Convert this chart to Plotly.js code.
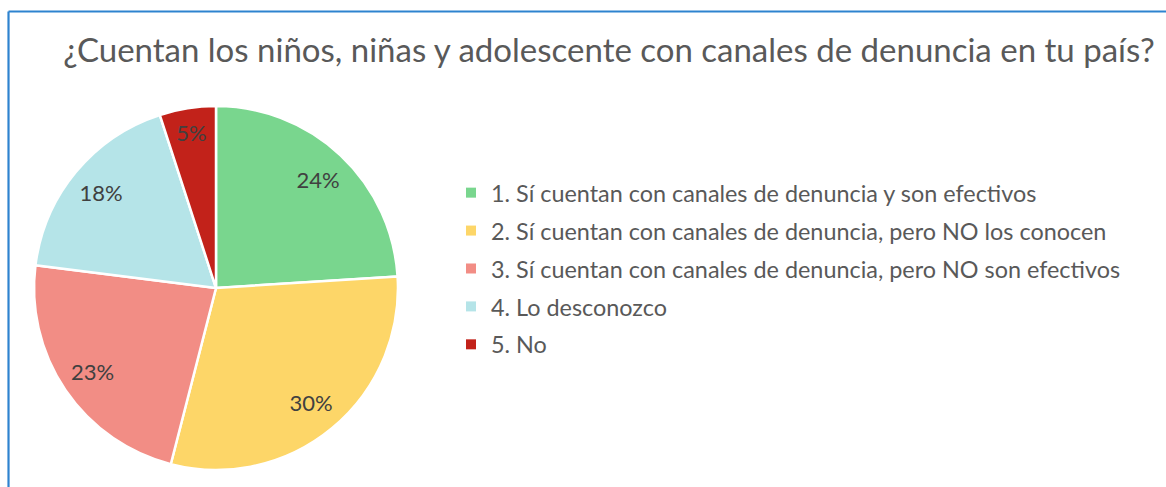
<!DOCTYPE html>
<html>
<head>
<meta charset="utf-8">
<script src="https://cdn.plot.ly/plotly-3.0.1.min.js"></script>
<style>html,body{margin:0;padding:0;background:#fff;}#chart{width:1166px;height:487px;}</style>
</head>
<body>
<div id="chart"></div>
<script>
const titleText = "¿Cuentan los niños, niñas y adolescente con canales de denuncia en tu país?";
const labels = [
  "1. Sí cuentan con canales de denuncia y son efectivos",
  "2. Sí cuentan con canales de denuncia, pero NO los conocen",
  "3. Sí cuentan con canales de denuncia, pero NO son efectivos",
  "4. Lo desconozco",
  "5. No"
];
const values = [24, 30, 23, 18, 5];
const colors = ["#79D68E", "#FDD668", "#F28D85", "#B5E4E8", "#C2221A"];

const FONT = "Lato, 'Open Sans', sans-serif";
const pieDomain = {x: [0.0292, 0.3413], y: [0.0349, 0.7823]};

const traces = [{
  type: "pie",
  labels: labels,
  values: values,
  sort: false,
  direction: "clockwise",
  rotation: 0,
  marker: {colors: colors, line: {color: "#ffffff", width: 2.5}},
  textinfo: "none",
  domain: pieDomain,
  showlegend: false,
  hoverinfo: "label+percent"
}, {
  // transparent ring carrying the data labels near the outer part of the pie
  type: "pie",
  labels: labels,
  values: values,
  sort: false,
  direction: "clockwise",
  rotation: 0,
  hole: 0.64,
  marker: {colors: colors.map(() => "rgba(0,0,0,0)"), line: {width: 0}},
  texttemplate: "%{percent:.0%}",
  textposition: "inside",
  insidetextorientation: "horizontal",
  textfont: {family: FONT, size: 22, color: "#404040"},
  domain: pieDomain,
  showlegend: false,
  hoverinfo: "skip"
}];

labels.forEach((lab, i) => {
  traces.push({
    type: "scatter",
    mode: "markers",
    x: [null], y: [null],
    name: lab,
    legendgroup: "g" + i,
    marker: {symbol: "square", size: 10, color: colors[i]},
    showlegend: true,
    hoverinfo: "skip"
  });
});

const layout = {
  width: 1166, height: 487,
  margin: {l: 0, r: 0, t: 0, b: 0},
  paper_bgcolor: "#ffffff",
  plot_bgcolor: "#ffffff",
  title: {
    text: titleText,
    font: {family: FONT, size: 33, color: "#595959"},
    x: 0.5223, xanchor: "center",
    y: 0.897, yanchor: "middle"
  },
  xaxis: {visible: false},
  yaxis: {visible: false},
  legend: {
    x: 0.3868, xanchor: "left",
    y: 0.649, yanchor: "top",
    font: {family: FONT, size: 23.4, color: "#595959"},
    tracegroupgap: 4.5,
    bgcolor: "rgba(0,0,0,0)",
    itemclick: false, itemdoubleclick: false
  },
  shapes: [
    {type: "line", xref: "paper", yref: "paper", x0: 0.0073, x1: 1.01, y0: 0.9764, y1: 0.9764, line: {color: "#2E83CF", width: 2.2}},
    {type: "line", xref: "paper", yref: "paper", x0: 0.0073, x1: 0.0073, y0: 0.9764, y1: -0.01, line: {color: "#2E83CF", width: 2.2}}
  ]
};

Plotly.newPlot("chart", traces, layout, {displayModeBar: false});
</script>
</body>
</html>
